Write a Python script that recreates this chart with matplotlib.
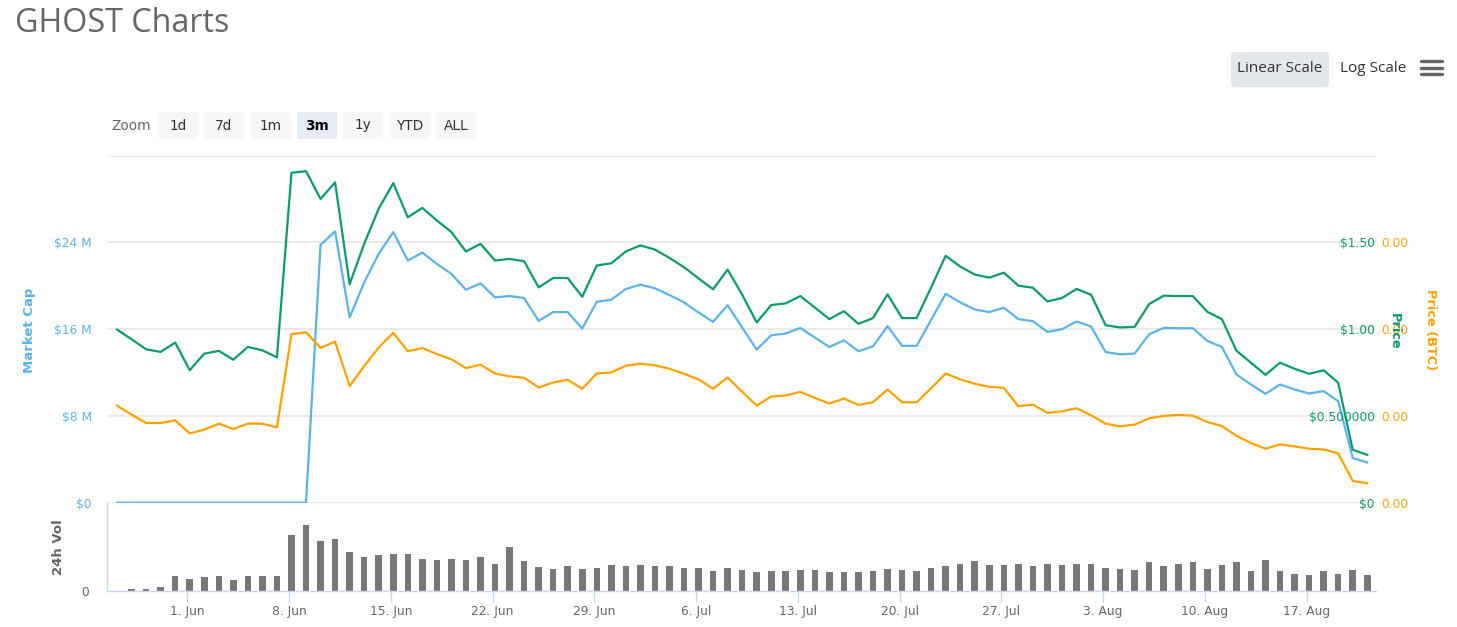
import numpy as np
import pandas as pd
import matplotlib
matplotlib.use("Agg")
import matplotlib.pyplot as plt
import matplotlib.dates as mdates
import matplotlib.transforms as mtransforms
from matplotlib.patches import FancyBboxPatch
from matplotlib.lines import Line2D

plt.rcParams['font.family'] = ['DejaVu Sans']
TITLE_FONT = ['Open Sans', 'DejaVu Sans']

W, H = 1457, 627

# ---------------- data ----------------
dates = pd.date_range('2020-05-27 04:00', periods=87, freq='D')

market_cap_m = [0, 0, 0, 0, 0, 0, 0, 0, 0, 0, 0, 0, 0, 0,
                23.78, 25.02, 17.08, 20.32, 22.95, 24.96, 22.33, 23.07, 22.02, 21.10,
                19.64, 20.23, 18.93, 19.06, 18.87, 16.77, 17.58, 17.58, 16.06, 18.53,
                18.72, 19.71, 20.11, 19.77, 19.15, 18.47, 17.54, 16.68, 18.22, 16.15,
                14.12, 15.44, 15.60, 16.12, 15.23, 14.36, 14.98, 13.96, 14.42, 16.28,
                14.46, 14.46, 16.86, 19.27, 18.47, 17.82, 17.58, 17.98, 16.93, 16.74,
                15.75, 16.00, 16.71, 16.25, 13.90, 13.68, 13.75, 15.54, 16.12, 16.09,
                16.09, 14.92, 14.36, 11.83, 10.90, 10.04, 10.90, 10.44, 10.07, 10.29,
                9.36, 4.11, 3.71]

price_usd = [0.998, 0.942, 0.884, 0.869, 0.923, 0.764, 0.859, 0.875, 0.824, 0.898,
             0.878, 0.838, 1.902, 1.911, 1.751, 1.846, 1.259, 1.492, 1.695, 1.842,
             1.645, 1.699, 1.627, 1.560, 1.448, 1.492, 1.396, 1.405, 1.392, 1.241,
             1.295, 1.295, 1.187, 1.367, 1.380, 1.448, 1.483, 1.459, 1.411, 1.357,
             1.293, 1.230, 1.344, 1.199, 1.039, 1.139, 1.149, 1.191, 1.125, 1.058,
             1.104, 1.031, 1.064, 1.201, 1.064, 1.064, 1.241, 1.423, 1.361, 1.315,
             1.297, 1.326, 1.251, 1.239, 1.160, 1.180, 1.232, 1.199, 1.023, 1.010,
             1.014, 1.145, 1.193, 1.191, 1.191, 1.100, 1.058, 0.876, 0.807, 0.737,
             0.807, 0.772, 0.743, 0.763, 0.691, 0.305, 0.276]

price_btc = [0.0001120, 0.0001015, 0.0000919, 0.0000919, 0.0000950, 0.0000799,
             0.0000842, 0.0000911, 0.0000849, 0.0000911, 0.0000911, 0.0000869,
             0.0001942, 0.0001965, 0.0001784, 0.0001857, 0.0001344, 0.0001575,
             0.0001788, 0.0001958, 0.0001745, 0.0001784, 0.0001714, 0.0001653,
             0.0001552, 0.0001591, 0.0001490, 0.0001456, 0.0001440, 0.0001328,
             0.0001386, 0.0001417, 0.0001313, 0.0001490, 0.0001502, 0.0001579,
             0.0001602, 0.0001583, 0.0001544, 0.0001486, 0.0001421, 0.0001313,
             0.0001444, 0.0001278, 0.0001120, 0.0001224, 0.0001236, 0.0001278,
             0.0001208, 0.0001143, 0.0001201, 0.0001127, 0.0001158, 0.0001305,
             0.0001158, 0.0001158, 0.0001320, 0.0001490, 0.0001421, 0.0001371,
             0.0001336, 0.0001324, 0.0001112, 0.0001131, 0.0001035, 0.0001054,
             0.0001089, 0.0001008, 0.0000911, 0.0000880, 0.0000900, 0.0000973,
             0.0001000, 0.0001012, 0.0001004, 0.0000931, 0.0000884, 0.0000772,
             0.0000687, 0.0000622, 0.0000672, 0.0000649, 0.0000622, 0.0000614,
             0.0000568, 0.0000251, 0.0000224]

volume_k = [0, 6, 6, 10, 44, 36, 40, 43, 32, 43, 43, 43, 167, 197, 148, 156, 115,
            100, 107, 111, 111, 96, 92, 96, 92, 100, 81, 130, 88, 70, 66, 73, 66,
            69, 77, 73, 77, 73, 73, 69, 69, 58, 69, 62, 55, 58, 58, 62, 62, 55, 55,
            55, 58, 66, 62, 58, 69, 73, 81, 88, 77, 77, 81, 73, 81, 77, 81, 81, 69,
            66, 62, 85, 73, 81, 85, 66, 77, 85, 58, 92, 58, 51, 47, 58, 51, 62, 47]

mc_ticks = [0, 8, 16, 24]
mc_tick_labels = ['$0', '$8 M', '$16 M', '$24 M']
usd_ticks = [0, 0.5, 1.0, 1.5]
usd_tick_labels = ['$0', '$0.500000', '$1.00', '$1.50']
btc_ticks = [0, 0.0001, 0.0002, 0.0003]
btc_tick_labels = ['0.00', '0.00', '0.00', '0.00']
zoom_buttons = ['1d', '7d', '1m', '3m', '1y', 'YTD', 'ALL']

# ---------------- styles ----------------
C_BLUE = '#5CB3E8'
C_GREEN = '#0B9B6F'
C_ORANGE = '#FFA200'
C_GRID = '#e6e6e6'
C_AXIS = '#ccd6eb'
C_TEXT = '#666666'
TICK_FS = 8.8

fig = plt.figure(figsize=(W / 100, H / 100), dpi=100)
fig.patch.set_facecolor('white')

# pixel transform, origin top-left
T = mtransforms.Affine2D().scale(1, -1).translate(0, H)


def fx(px):
    return px / W


def fy(py):
    return 1 - py / H


left_px, right_px = 107, 1376
top_px, zero_px, vol_bottom_px = 155.7, 502.7, 590.7

ax = fig.add_axes([fx(left_px), fy(zero_px), fx(right_px - left_px),
                   (zero_px - top_px) / H])
axv = fig.add_axes([fx(left_px), fy(vol_bottom_px), fx(right_px - left_px),
                    (vol_bottom_px - zero_px) / H])

# x range
day_px = (1306.7 - 187.3) / 77.0
jun1 = mdates.date2num(pd.Timestamp('2020-06-01'))
xl = jun1 - (187.3 - left_px) / day_px
xr = xl + (right_px - left_px) / day_px

xd = mdates.date2num(dates)

# main axes: market cap
ax.set_facecolor('none')
ax.plot(xd, market_cap_m, color=C_BLUE, lw=1.6, zorder=3, solid_joinstyle='round')
ax.set_ylim(0, 32)
ax.set_xlim(xl, xr)
ax.set_yticks([0, 8, 16, 24, 32])
ax.set_yticklabels(mc_tick_labels + [''])
ax.tick_params(axis='y', length=0, pad=11, labelcolor=C_BLUE, labelsize=TICK_FS)
ax.grid(axis='y', color=C_GRID, lw=1.2)
ax.set_axisbelow(True)
ax.set_xticks([])
for s in ax.spines.values():
    s.set_visible(False)

# price USD axis
axp = ax.twinx()
axp.plot(xd, price_usd, color=C_GREEN, lw=1.6, zorder=3, solid_joinstyle='round')
axp.set_ylim(0, 2.0)
axp.set_xlim(xl, xr)
axp.set_yticks(usd_ticks)
axp.set_yticklabels(usd_tick_labels)
axp.tick_params(axis='y', length=0, pad=-1, labelcolor=C_GREEN, labelsize=TICK_FS)
for lab in axp.get_yticklabels():
    lab.set_horizontalalignment('right')
for s in axp.spines.values():
    s.set_visible(False)

# price BTC axis
axb = ax.twinx()
axb.plot(xd, price_btc, color=C_ORANGE, lw=1.6, zorder=3, solid_joinstyle='round')
axb.set_ylim(0, 0.0004)
axb.set_xlim(xl, xr)
axb.set_yticks(btc_ticks)
axb.set_yticklabels(btc_tick_labels)
axb.tick_params(axis='y', length=0, pad=4, labelcolor=C_ORANGE, labelsize=TICK_FS)
for s in axb.spines.values():
    s.set_visible(False)

# volume axes
axv.bar(xd, volume_k, width=0.45, color='#777777', edgecolor='none', zorder=2)
axv.set_xlim(xl, xr)
axv.set_ylim(0, 263)
axv.set_yticks([0])
axv.set_yticklabels(['0'])
axv.tick_params(axis='y', length=0, pad=13, labelcolor=C_TEXT, labelsize=TICK_FS)
for k in ['top', 'right']:
    axv.spines[k].set_visible(False)
for k in ['left', 'bottom']:
    axv.spines[k].set_color(C_AXIS)
    axv.spines[k].set_linewidth(1)
axv.xaxis.set_major_locator(mdates.WeekdayLocator(byweekday=mdates.MO))
axv.xaxis.set_major_formatter(mdates.DateFormatter('%-d. %b'))
axv.tick_params(axis='x', length=8, width=1, color=C_AXIS, pad=2,
                labelcolor=C_TEXT, labelsize=TICK_FS)

# axis titles
fig.text(29, 330, 'Market Cap', transform=T, rotation=90, ha='center', va='center',
         color=C_BLUE, fontsize=9.5, fontweight='bold')
fig.text(58, 547, '24h Vol', transform=T, rotation=90, ha='center', va='center',
         color=C_TEXT, fontsize=9.5, fontweight='bold')
fig.text(1394, 331, 'Price', transform=T, rotation=-90, ha='center', va='center',
         color=C_GREEN, fontsize=9.3, fontweight='bold')
fig.text(1430, 330, 'Price (BTC)', transform=T, rotation=-90, ha='center', va='center',
         color=C_ORANGE, fontsize=9.3, fontweight='bold')

# title
fig.text(15, 23, 'GHOST Charts', transform=T, ha='left', va='center',
         color='#666666', fontsize=23.2, family=TITLE_FONT)

# zoom buttons
fig.text(131, 126, 'Zoom', transform=T, ha='center', va='center', color=C_TEXT,
         fontsize=9.8)
btn_x = [158, 204, 251, 297, 343, 390, 436]
for bx, lab in zip(btn_x, zoom_buttons):
    sel = (lab == '3m')
    p = FancyBboxPatch((bx, 112), 40, 27, boxstyle='round,pad=0,rounding_size=2',
                       transform=T, facecolor='#e6ebf5' if sel else '#f7f7f7',
                       edgecolor='none')
    fig.add_artist(p)
    fig.text(bx + 20, 125.5, lab, transform=T, ha='center', va='center',
             color='#000000' if sel else '#333333', fontsize=9.8,
             fontweight='bold' if sel else 'normal')

# scale buttons
p = FancyBboxPatch((1231, 52), 98, 35, boxstyle='round,pad=0,rounding_size=3',
                   transform=T, facecolor='#e4e7eb', edgecolor='none')
fig.add_artist(p)
fig.text(1280, 68.5, 'Linear Scale', transform=T, ha='center', va='center',
         color='#333333', fontsize=11, family=TITLE_FONT)
fig.text(1373, 68.5, 'Log Scale', transform=T, ha='center', va='center',
         color='#333333', fontsize=11, family=TITLE_FONT)
for yy in [60.7, 67.5, 74.3]:
    fig.add_artist(Line2D([1421, 1442], [yy, yy], transform=T, color='#666666',
                          lw=2.4, solid_capstyle='round'))

fig.savefig('out.png', dpi=100, facecolor='white')
